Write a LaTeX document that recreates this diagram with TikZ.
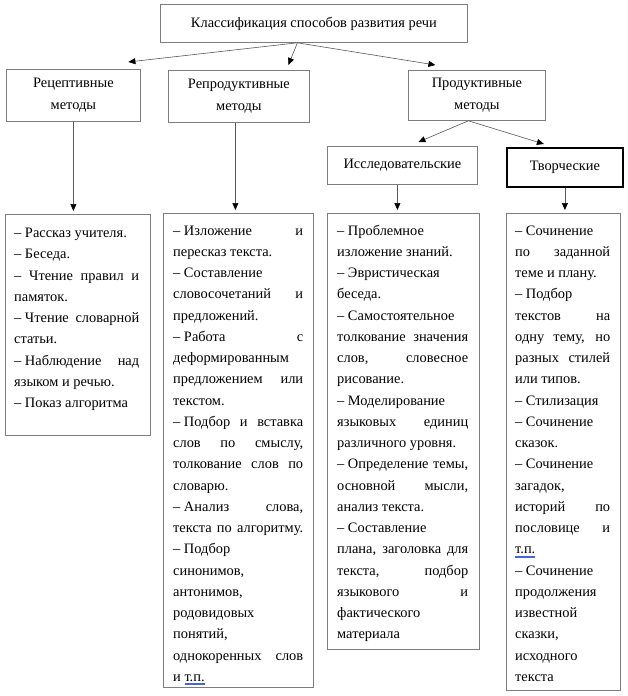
\documentclass[tikz,border=0pt]{standalone}
\usepackage{fontspec}
\setmainfont{Liberation Serif}
\usetikzlibrary{arrows.meta,calc}
\definecolor{ulblue}{RGB}{70,100,210}
\definecolor{bordergray}{RGB}{125,125,125}
\newcommand\J[1]{{\spaceskip=0.25em plus 1fill\relax\xspaceskip=\spaceskip\makebox[\hsize][s]{#1}}}
\newcommand\D{–\hspace{0.25em}}
\newcommand\st{\spaceskip=0.25em plus 0.125em minus 0.08em\relax\xspaceskip=\spaceskip\rule{0pt}{12pt}}
\newsavebox\ulbox
\newcommand\dul[1]{\sbox\ulbox{#1}\usebox\ulbox\llap{\color{ulblue}\rule[-2.2pt]{\wd\ulbox}{0.5pt}}\llap{\color{ulblue}\rule[-3.7pt]{\wd\ulbox}{0.5pt}}}
\newcommand\fs{\fontsize{14.4}{21.24}\selectfont}
\begin{document}
\begin{tikzpicture}[x=1pt,y=-1pt,
  hdr/.style={draw=bordergray, line width=0.8pt, anchor=north west, align=center, inner sep=0pt, font=\fontsize{14.4}{22}\selectfont},
  col/.style={draw=bordergray, line width=0.8pt, anchor=north west, inner sep=0pt},
  txt/.style={anchor=north west, inner sep=0pt, align=left, font=\fs},
  arr/.style={draw=black!65, line width=0.6pt, -{Triangle[length=7pt,width=6pt,color=black]}}]
\fill[white] (0,0) rectangle (627,696);
\path[use as bounding box] (0,0) rectangle (627,696);

% header boxes
\node[hdr, minimum width=307pt, minimum height=38pt] (top) at (160,4) {\st Классификация способов развития речи};
\node[hdr, minimum width=134pt, minimum height=52pt] (rec) at (6,69) {Рецептивные\\методы};
\node[hdr, minimum width=141pt, minimum height=52pt] (rep) at (168,70) {Репродуктивные\\методы};
\node[hdr, minimum width=137pt, minimum height=50pt] (prod) at (408,70) {Продуктивные\\методы};
\node[hdr, minimum width=150pt, minimum height=38pt] (iss) at (327,146) {Исследовательские};
\node[hdr, draw=black, line width=1.8pt, minimum width=116pt, minimum height=39pt] (tvo) at (506,147) {Творческие};

% column boxes
\node[col, minimum width=145pt, minimum height=221pt] (b1) at (5,214) {};
\node[col, minimum width=150pt, minimum height=474pt] (b2) at (163,213) {};
\node[col, minimum width=152pt, minimum height=436pt] (b3) at (327,213) {};
\node[col, minimum width=114pt, minimum height=477pt] (b4) at (506,213) {};

% column texts
\node[txt, text width=125pt] (t1) at (14,225.5) {\st– Рассказ учителя.\\
– Беседа.\\
\J{– Чтение правил и}\\
памяток.\\
\J{\D Чтение словарной}\\
статьи.\\
\J{\D Наблюдение над}\\
языком и речью.\\
– Показ алгоритма};

\node[txt, text width=130pt] (t2) at (173,223) {\st\J{\D Изложение и}\\
пересказ текста.\\
– Составление\\
\J{словосочетаний и}\\
предложений.\\
\J{\D Работа с}\\
деформированным\\
\J{предложением или}\\
текстом.\\
\J{\D Подбор и вставка}\\
\J{слов по смыслу,}\\
\J{толкование слов по}\\
словарю.\\
\J{\D Анализ слова,}\\
\J{текста по алгоритму.}\\
– Подбор\\
синонимов,\\
антонимов,\\
родовидовых\\
понятий,\\
\J{однокоренных слов}\\
и \dul{т.п.}};

\node[txt, text width=131pt] (t3) at (337,223) {\st– Проблемное\\
изложение знаний.\\
– Эвристическая\\
беседа.\\
– Самостоятельное\\
\J{толкование значения}\\
\J{слов, словесное}\\
рисование.\\
– Моделирование\\
\J{языковых единиц}\\
различного уровня.\\
\J{\D Определение темы,}\\
\J{основной мысли,}\\
анализ текста.\\
– Составление\\
\J{плана, заголовка для}\\
\J{текста, подбор}\\
\J{языкового и}\\
фактического\\
материала};

\node[txt, text width=95pt] (t4) at (515,223) {\st– Сочинение\\
\J{по заданной}\\
теме и плану.\\
– Подбор\\
\J{текстов на}\\
\J{одну тему, но}\\
\J{разных стилей}\\
или типов.\\
– Стилизация\\
– Сочинение\\
сказок.\\
– Сочинение\\
загадок,\\
\J{историй по}\\
\J{пословице и}\\
\dul{т.п.}\\
– Сочинение\\
продолжения\\
известной\\
сказки,\\
исходного\\
текста};

% connectors
\coordinate (ts) at ($(top.south)+(-16.5,0)$);
\coordinate (ps) at ($(prod.south)+(-8.5,0)$);
\draw[arr] (ts) -- ($(rec.north)+(55,-7)$);
\draw[arr] (ts) -- ($(rep.north)+(49.5,-5)$);
\draw[arr] (ts) -- ($(prod.north)+(-41.5,-5)$);
\draw[arr] (ps) -- ($(iss.north)+(16,-4)$);
\draw[arr] (ps) -- ($(tvo.north)+(-21,-3)$);

\coordinate (rs) at (rec.south);
\coordinate (ps2) at ($(rep.south)+(-3.5,0)$);
\coordinate (is) at ($(iss.south)+(-5,0)$);
\coordinate (vs) at (tvo.south);
\draw[arr] (rs) -- ($(rs |- b1.north)+(0,-3)$);
\draw[arr] (ps2) -- ($(ps2 |- b2.north)+(0,-3)$);
\draw[arr] (is) -- ($(is |- b3.north)+(0,-3)$);
\draw[arr] (vs) -- ($(vs |- b4.north)+(0,-3)$);
\end{tikzpicture}
\end{document}
